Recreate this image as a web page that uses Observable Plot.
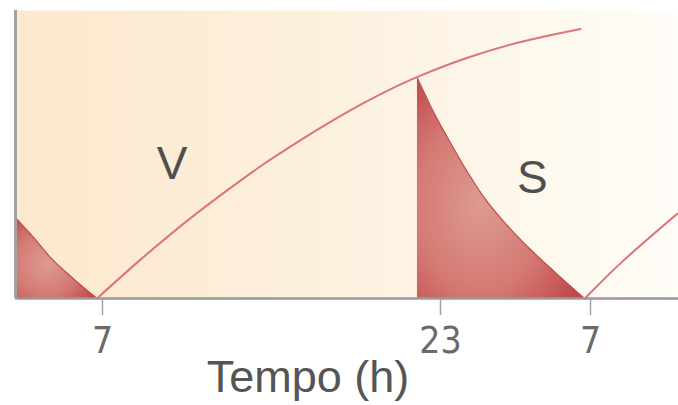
<!DOCTYPE html>
<html>
<head>
<meta charset="utf-8">
<script src="https://cdn.jsdelivr.net/npm/d3@7"></script>
<script src="https://cdn.jsdelivr.net/npm/@observablehq/plot@0.6"></script>
<style>
  html, body { margin: 0; padding: 0; background: #fff; }
</style>
</head>
<body>
<div id="chart"></div>
<script>
// Hours of the day, counted on past midnight (31 = 7h of the next day).
// Levels are in arbitrary units from 0 to 100.
const tickHours = [7, 23, 31];
const tickLabels = ["7", "23", "7"];

// V: rising while awake
const vHours = [6.75, 8.8, 11.17, 13.06, 14.62, 16.23, 17.79, 19.35, 20.96, 22.05, 24.44, 27.11, 30.47];
const vLevel = [0, 13.5, 27.9, 38.4, 46.6, 54.3, 61.3, 67.8, 73.8, 77.4, 83.6, 88.8, 93.6];

// V again after waking the next morning
const v2Hours = [30.7, 32.53, 35.45];
const v2Level = [0, 12.2, 29.5];

// S: discharged during sleep
const sHours = [21.91, 22.76, 23.64, 24.49, 25.4, 26.47, 27.8, 29.13, 30.68];
const sLevel = [76.5, 63.5, 52.8, 43.4, 34.4, 26.0, 17.0, 9.0, 0];

// Tail of the previous night's S
const s0Hours = [3, 3.83, 4.61, 5.39, 6.13, 6.75];
const s0Level = [28.1, 21.2, 14.2, 8.7, 3.8, 0];

const labels = [
  {text: "V", hour: 10.3, level: 46.7},
  {text: "S", hour: 27.9, level: 41.7}
];

// The time axis is drawn schematically: the day and the night get different widths.
const hourBreaks = [3, 7, 23, 31, 35.5];
const axisStops = [0, 87, 425, 575, 663];
const timeAxis = d3.scaleLinear().domain(hourBreaks).range(axisStops);
const tickStops = tickHours.map(timeAxis);

const rows = (hs, ls) => hs.map((h, i) => ({hour: h, level: ls[i]}));
const V = rows(vHours, vLevel);
const V2 = rows(v2Hours, v2Level);
const S = rows(sHours, sLevel);
const S0 = rows(s0Hours, s0Level);

const lineColor = "#dc7479";
const edgeColor = "#c04a4e";
const smooth = "catmull-rom";

const chart = Plot.plot({
  width: 678,
  height: 405,
  marginLeft: 15,
  marginRight: 0,
  marginTop: 10,
  marginBottom: 107,
  style: {fontFamily: "'Liberation Sans', Arial, sans-serif", background: "#fff"},
  x: {transform: timeAxis},
  y: {domain: [0, 100], axis: null},
  marks: [
    Plot.frame({fill: "url(#dayBg)"}),
    Plot.areaY(S0, {x: "hour", y: "level", fill: "url(#sleepFill)", curve: smooth}),
    Plot.areaY(S, {x: "hour", y: "level", fill: "url(#sleepFill)", curve: smooth}),
    Plot.line(S0, {x: "hour", y: "level", stroke: edgeColor, strokeWidth: 1.2, curve: smooth}),
    Plot.line(S, {x: "hour", y: "level", stroke: edgeColor, strokeWidth: 1.2, curve: smooth}),
    Plot.line(V, {x: "hour", y: "level", stroke: lineColor, strokeWidth: 2, curve: smooth}),
    Plot.line(V2, {x: "hour", y: "level", stroke: lineColor, strokeWidth: 2, curve: smooth}),
    Plot.ruleY([0], {x1: hourBreaks[0], x2: hourBreaks[hourBreaks.length - 1], stroke: "#9a9a9a", strokeWidth: 2.5}),
    Plot.ruleX([hourBreaks[0]], {y1: 0, y2: 100, stroke: "#a3a3a3", strokeWidth: 3}),
    Plot.axisX({
      ticks: tickStops,
      tickFormat: d => tickLabels[tickStops.indexOf(d)],
      tickSize: 17,
      tickPadding: 11,
      stroke: "#a0a0a0",
      strokeWidth: 1.5,
      fill: "#6a6a6a",
      fontSize: 37,
      fontFamily: "'Liberation Sans Narrow', 'DejaVu Sans Condensed', 'Liberation Sans', sans-serif",
      label: null
    }),
    Plot.text(labels, {x: "hour", y: "level", text: "text", fontSize: 46, fill: "#4f4f4f"}),
    Plot.text(["Tempo (h)"], {frameAnchor: "bottom", lineAnchor: "top", dx: -39, dy: 62, fontSize: 45, fill: "#555"})
  ]
});

// Gradients: warm daytime background fading to white, and the shaded red sleep areas
const svg = d3.select(chart);
const defs = svg.insert("defs", ":first-child");
const bg = defs.append("linearGradient").attr("id", "dayBg").attr("x1", 0).attr("x2", 1).attr("y1", 0).attr("y2", 0);
bg.append("stop").attr("offset", "0%").attr("stop-color", "#fce8cd");
bg.append("stop").attr("offset", "45%").attr("stop-color", "#fcf0dd");
bg.append("stop").attr("offset", "100%").attr("stop-color", "#fffdf8");
const red = defs.append("radialGradient").attr("id", "sleepFill").attr("cx", 0.38).attr("cy", 0.58).attr("r", 0.7);
red.append("stop").attr("offset", "0%").attr("stop-color", "#de9a93");
red.append("stop").attr("offset", "55%").attr("stop-color", "#d47a74");
red.append("stop").attr("offset", "100%").attr("stop-color", "#bf474a");

document.getElementById("chart").appendChild(chart);
</script>
</body>
</html>
